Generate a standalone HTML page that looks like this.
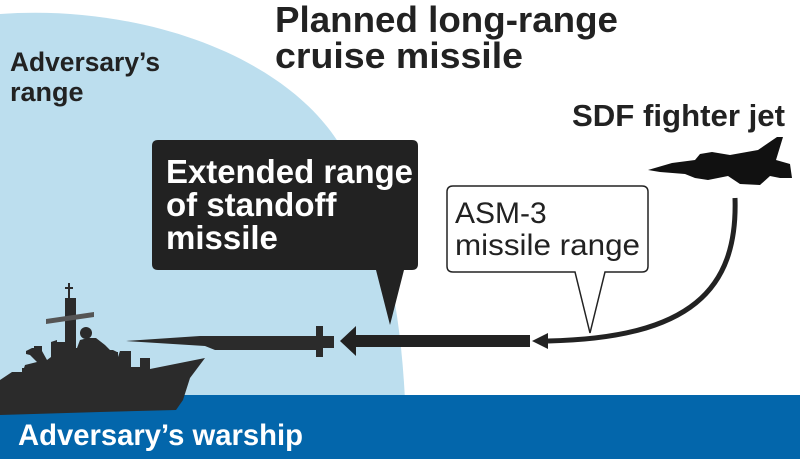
<!DOCTYPE html>
<html><head><style>
body{margin:0;width:800px;height:459px;overflow:hidden;background:#fff;font-family:"Liberation Sans",Arial,sans-serif}
</style></head><body>
<svg width="800" height="459" viewBox="0 0 800 459" xmlns="http://www.w3.org/2000/svg" style="position:absolute;left:0;top:0">
<path d="M0,14 C140,4 285,55 340,145 C382,215 400,300 405,400 L0,400 Z" fill="#bcdeee"/>
<rect x="0" y="395" width="800" height="64" fill="#0366ab"/>
<!-- ship -->
<g fill="#2b2b2b">
<path d="M0,380 L12,372 L22,372 L22,368 L24,368 L25,365 L37,362 L30,355 L26,354 L26,351 L32,348 L34,348 L34,346 L42,346 L42,351 L47,360 L51,357 L51,342 L57,340 L57,342 L70,342 L70,348 L77,348 L80,340 L88,338 L96,338 L105,345 L110,350 L113,350 L117,352 L118,352 L118,357 L120,351 L131,351 L131,367 L140,367 L140,358 L150,358 L150,369 L205,358 L190,378 L183,400 L176,410 L100,412 L0,415 Z"/>
<rect x="65" y="298" width="11" height="52"/>
<rect x="68" y="283" width="2" height="16"/>
<rect x="65" y="287" width="8" height="2"/>
<polygon points="46,319 94,312 94,317 46,324" fill="#555"/>
<circle cx="86" cy="333" r="6"/>
<path d="M126,341 L200,336 L316,336 L316,326 L323,326 L323,336 L334,336 L334,348 L323,348 L323,357 L316,357 L316,350 L215,350 L205,346 Z"/>
</g>
<!-- arrows -->
<rect x="352" y="335" width="178" height="12" fill="#222"/>
<polygon points="340,341 356,326 356,356" fill="#222"/>
<path d="M735,198 C738,290 690,338 548,341" fill="none" stroke="#222" stroke-width="5"/>
<polygon points="532,341 548,333 548,349" fill="#222"/>
<!-- black callout -->
<path d="M158,140 H412 Q418,140 418,146 V264 Q418,270 412,270 H404 L390,325 L376,270 H158 Q152,270 152,264 V146 Q152,140 158,140 Z" fill="#222"/>
<!-- white callout -->
<path d="M453,186 H642 Q648,186 648,192 V266 Q648,272 642,272 H605 L590,333 L575,272 H453 Q447,272 447,266 V192 Q447,186 453,186 Z" fill="#fff" stroke="#222" stroke-width="1.5"/>
<!-- jet -->
<path d="M648,170 L672,163 L695,160 L700,154 L712,152 L730,155 L758,150 L777,137 L783,137 L776,160 L790,164 L792,178 L780,178 L770,176 L760,185 L740,184 L728,176 L708,180 L695,178 L685,174 L660,172 Z" fill="#111"/>
<g font-weight="bold" fill="#222">
<text x="10" y="71" font-size="27" textLength="150" lengthAdjust="spacingAndGlyphs">Adversary’s</text>
<text x="10" y="101" font-size="27">range</text>
<text x="275" y="32" font-size="36" textLength="343" lengthAdjust="spacingAndGlyphs">Planned long-range</text>
<text x="275" y="68" font-size="36" textLength="248" lengthAdjust="spacingAndGlyphs">cruise missile</text>
<text x="572" y="126" font-size="31" textLength="213" lengthAdjust="spacingAndGlyphs">SDF fighter jet</text>
<text x="166" y="183" font-size="33" fill="#fff" textLength="247" lengthAdjust="spacingAndGlyphs">Extended range</text>
<text x="166" y="216" font-size="33" fill="#fff">of standoff</text>
<text x="166" y="249" font-size="33" fill="#fff">missile</text>
<text x="18" y="445" font-size="30" fill="#fff" textLength="285" lengthAdjust="spacingAndGlyphs">Adversary’s warship</text>
</g>
<text x="455" y="223" font-size="30" fill="#222">ASM-3</text>
<text x="455" y="255" font-size="30" fill="#222" textLength="185" lengthAdjust="spacingAndGlyphs">missile range</text>
</svg>
</body></html>
